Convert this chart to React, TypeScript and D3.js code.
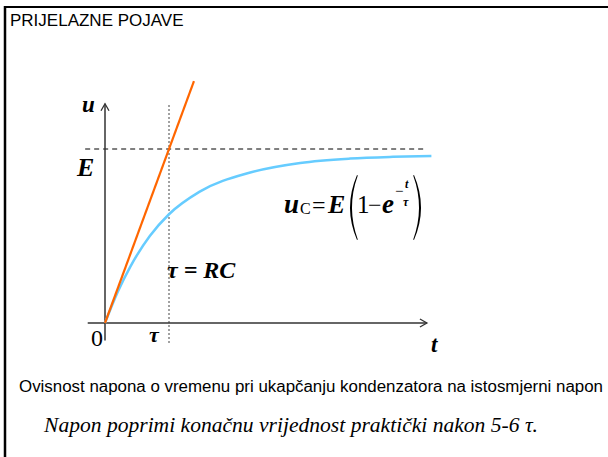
import React from "react";
import * as d3 from "d3";

// Time in units of tau, voltage in units of E
const chargeT = [0, 0.2, 0.39, 0.7, 1.0, 1.48, 2.27, 3.05, 3.83, 4.5, 5.1];
const chargeU = [0, 0.18, 0.32, 0.5, 0.625, 0.755, 0.865, 0.92, 0.945, 0.955, 0.96];
const tangentT = [0, 1.39];
const tangentU = [0, 1.39];
const levelE = 1;
const tauMark = 1;

const W = 608;
const H = 457;

export default function App() {
  const x = d3.scaleLinear().domain([0, 1]).range([105, 169]);
  const y = d3.scaleLinear().domain([0, 1]).range([323, 149]);

  const charge = chargeT.map((t, i) => [t, chargeU[i]] as [number, number]);
  const tangent = tangentT.map((t, i) => [t, tangentU[i]] as [number, number]);
  const line = d3
    .line<[number, number]>()
    .x((d) => x(d[0]))
    .y((d) => y(d[1]))
    .curve(d3.curveMonotoneX);
  const straight = d3
    .line<[number, number]>()
    .x((d) => x(d[0]))
    .y((d) => y(d[1]));

  const axisColor = "#333";
  const serif = "'Liberation Serif', 'Times New Roman', serif";
  const sans = "'Liberation Sans', Arial, sans-serif";

  const xAxisEnd = x(5.03);
  const yAxisTop = y(1.26);

  // thin crescent-shaped bracket, bulging toward xTip
  const bracket = (xTip: number, xEnd: number, top: number, bottom: number, w: number) => {
    const mid = (top + bottom) / 2;
    const s = Math.sign(xEnd - xTip);
    return `M${xEnd},${top} Q${xTip - s * 4},${mid} ${xEnd},${bottom} L${xEnd + s * 0.8},${bottom - 0.5} Q${xTip - s * 4 + s * w * 2},${mid} ${xEnd + s * 0.8},${top + 0.5} Z`;
  };

  return (
    <svg
      width={W}
      height={H}
      style={{ position: "absolute", left: 0, top: 0, background: "#fff" }}
    >
      {/* slide frame */}
      <line x1={5} y1={7} x2={W} y2={7} stroke="#000" strokeWidth={2} />
      <line x1={5} y1={6} x2={5} y2={H} stroke="#000" strokeWidth={2.5} />
      <text x={10} y={26} fontFamily={sans} fontSize={17} fill="#000">
        PRIJELAZNE POJAVE
      </text>

      {/* final value E */}
      <line
        x1={x(-0.31)}
        x2={x(5.0)}
        y1={y(levelE)}
        y2={y(levelE)}
        stroke="#000"
        strokeWidth={1}
        strokeDasharray="5,4"
      />
      {/* time constant */}
      <line
        x1={x(tauMark)}
        x2={x(tauMark)}
        y1={105}
        y2={345}
        stroke="#444"
        strokeWidth={1}
        strokeDasharray="2,2"
      />

      {/* axes */}
      <line x1={x(-0.27)} x2={xAxisEnd} y1={y(0)} y2={y(0)} stroke={axisColor} strokeWidth={1.5} />
      <path
        d={`M${xAxisEnd - 7},${y(0) - 4} L${xAxisEnd},${y(0)} L${xAxisEnd - 7},${y(0) + 4}`}
        fill="none"
        stroke={axisColor}
        strokeWidth={1.3}
      />
      <line x1={x(0)} x2={x(0)} y1={y(-0.1)} y2={yAxisTop} stroke={axisColor} strokeWidth={1.5} />
      <path
        d={`M${x(0) - 4},${yAxisTop + 7} L${x(0)},${yAxisTop} L${x(0) + 4},${yAxisTop + 7}`}
        fill="none"
        stroke={axisColor}
        strokeWidth={1.3}
      />

      {/* curves */}
      <path d={line(charge) ?? ""} fill="none" stroke="#66CCFF" strokeWidth={2.5} />
      <path d={straight(tangent) ?? ""} fill="none" stroke="#FF6600" strokeWidth={2.2} />

      {/* axis labels */}
      <text x={82} y={112} fontFamily={serif} fontSize={23} fontWeight="bold" fontStyle="italic">
        u
      </text>
      <text x={77} y={176} fontFamily={serif} fontSize={26} fontWeight="bold" fontStyle="italic">
        E
      </text>
      <text x={91} y={346} fontFamily={serif} fontSize={24}>
        0
      </text>
      <text x={149} y={342} fontFamily={serif} fontSize={22} fontWeight="bold" fontStyle="italic">
        τ
      </text>
      <text x={431} y={352} fontFamily={serif} fontSize={23} fontWeight="bold" fontStyle="italic">
        t
      </text>

      {/* tau = RC */}
      <text x={167} y={278} fontFamily={serif} fontSize={24} fontWeight="bold" fontStyle="italic">
        τ = RC
      </text>

      {/* capacitor voltage formula */}
      <g fontFamily={serif}>
        <text x={284} y={213} fontSize={27} fontWeight="bold" fontStyle="italic">
          u
        </text>
        <text x={300} y={214} fontSize={16}>
          C
        </text>
        <text x={312} y={213} fontSize={24}>
          =
        </text>
        <text x={328} y={213} fontSize={26} fontWeight="bold" fontStyle="italic">
          E
        </text>
        <path d={bracket(347, 357, 175, 240, 1.6)} fill="#000" />
        <text x={357} y={213} fontSize={25}>
          1
        </text>
        <text x={368} y={213} fontSize={24}>
          −
        </text>
        <text x={382} y={213} fontSize={27} fontWeight="bold" fontStyle="italic">
          e
        </text>
        <text x={395} y={196} fontSize={15}>
          −
        </text>
        <text x={405} y={188} fontSize={12} fontWeight="bold" fontStyle="italic">
          t
        </text>
        <text x={403} y={206} fontSize={12} fontWeight="bold" fontStyle="italic">
          τ
        </text>
        <path d={bracket(424, 414, 175, 240, 1.6)} fill="#000" />
      </g>

      {/* captions */}
      <text
        x={19}
        y={392}
        fontFamily={sans}
        fontSize={16}
        textLength={584}
        lengthAdjust="spacingAndGlyphs"
      >
        Ovisnost napona o vremenu pri ukapčanju kondenzatora na istosmjerni napon
      </text>
      <text
        x={44}
        y={432}
        fontFamily={serif}
        fontSize={20}
        fontStyle="italic"
        textLength={494}
        lengthAdjust="spacingAndGlyphs"
      >
        Napon poprimi konačnu vrijednost praktički nakon 5-6 τ.
      </text>
    </svg>
  );
}
